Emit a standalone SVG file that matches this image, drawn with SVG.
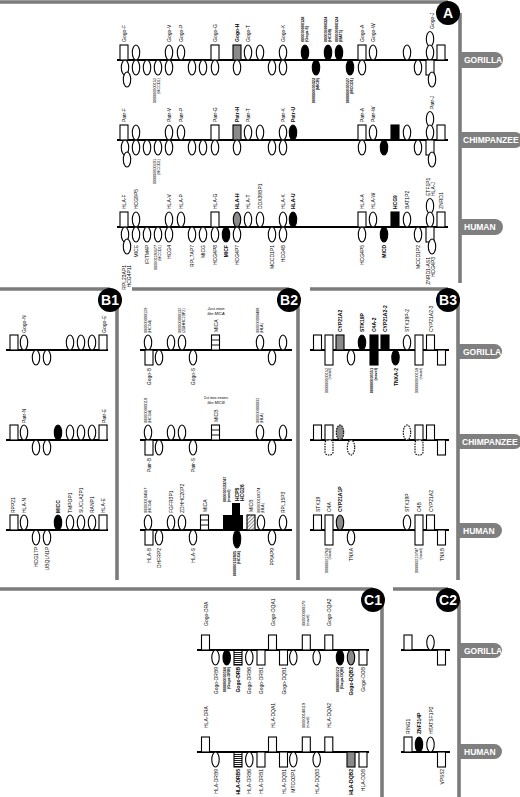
<svg xmlns="http://www.w3.org/2000/svg" width="520" height="797" viewBox="0 0 520 797">
<style>
.bar{stroke:#7c7c7c;stroke-width:3.6;fill:none}
.pill{fill:#7f7f7f}
.pt{font:bold 8.5px "Liberation Sans",Arial,sans-serif;fill:#fff;dominant-baseline:central}
.tt{font:bold 14px "Liberation Sans",Arial,sans-serif;fill:#fff;text-anchor:middle;dominant-baseline:central}
.ln{stroke:#000;stroke-width:2}
.r ellipse{fill:#fff;stroke:#000;stroke-width:1.1;rx:3.7px;ry:7.5px}
.r rect{fill:#fff;stroke:#000;stroke-width:1.1;width:8px;height:15px}
.r .k{fill:#000}
.r .m{fill:#8a8a8a}
.r .tall{height:30px}
.r .d{stroke-dasharray:1.6 1}
.r .hs{fill:url(#hs)}
.r .hx{fill:url(#hx)}
.r line{stroke:#000;stroke-width:.9}
.t{font:5px "Liberation Sans",Arial,sans-serif;dominant-baseline:central}
.n{font-size:3.8px}
.b{font-weight:bold}
.u{text-anchor:end}
.an{font:italic 4px "Liberation Sans",Arial,sans-serif;text-anchor:middle}
</style>
<defs>
<pattern id="hs" width="3" height="2" patternUnits="userSpaceOnUse"><rect width="3" height="2" fill="#fff"/><rect width="3" height="0.9" fill="#000"/></pattern>
<pattern id="hx" width="2.5" height="2.5" patternUnits="userSpaceOnUse" patternTransform="rotate(45)"><rect width="2.5" height="2.5" fill="#fff"/><rect width="1" height="2.5" fill="#888"/></pattern>
</defs>

<g id="frames">
<path class="bar" d="M0,2H448M460,13V283"/>
<path class="bar" d="M0,289H110M117,300V580"/>
<path class="bar" d="M132,289H289M298,300V580"/>
<path class="bar" d="M310,289H448M458,300V580"/>
<path class="bar" d="M0,589H373M382,600V797"/>
<path class="bar" d="M393,589H448M459,600V797"/>
</g>

<g id="tags">
<g id="tag-A"><circle cx="448" cy="13" r="12"/><text class="tt" x="448" y="13">A</text></g>
<g id="tag-B1"><circle cx="110" cy="300" r="12"/><text class="tt" x="110" y="300">B1</text></g>
<g id="tag-B2"><circle cx="289" cy="300" r="12"/><text class="tt" x="289" y="300">B2</text></g>
<g id="tag-B3"><circle cx="448" cy="300" r="12"/><text class="tt" x="448" y="300">B3</text></g>
<g id="tag-C1"><circle cx="373" cy="600" r="12"/><text class="tt" x="373" y="600">C1</text></g>
<g id="tag-C2"><circle cx="448" cy="600" r="12"/><text class="tt" x="448" y="600">C2</text></g>
</g>

<g id="species">
<g id="A-gor-pill"><path class="pill" d="M460,52H495A8,8 0 0 1 495,68H460Z"/><text class="pt" x="464" y="60">GORILLA</text></g>
<g id="A-chi-pill"><path class="pill" d="M460,132H515A8,8 0 0 1 515,148H460Z"/><text class="pt" x="463" y="140">CHIMPANZEE</text></g>
<g id="A-hum-pill"><path class="pill" d="M460,219H495A8,8 0 0 1 495,235H460Z"/><text class="pt" x="464" y="227">HUMAN</text></g>
<g id="B3-gor-pill"><path class="pill" d="M458,344H494.5A7.5,7.5 0 0 1 494.5,359H458Z"/><text class="pt" x="463" y="351.5">GORILLA</text></g>
<g id="B3-chi-pill"><path class="pill" d="M458,434H514.5A7.5,7.5 0 0 1 514.5,449H458Z"/><text class="pt" x="462" y="441.5">CHIMPANZEE</text></g>
<g id="B3-hum-pill"><path class="pill" d="M458,523H494.5A7.5,7.5 0 0 1 494.5,538H458Z"/><text class="pt" x="463" y="530.5">HUMAN</text></g>
<g id="C2-gor-pill"><path class="pill" d="M459,643H494.5A7.5,7.5 0 0 1 494.5,658H459Z"/><text class="pt" x="464" y="650.5">GORILLA</text></g>
<g id="C2-hum-pill"><path class="pill" d="M459,744H494.5A7.5,7.5 0 0 1 494.5,759H459Z"/><text class="pt" x="464" y="751.5">HUMAN</text></g>
</g>

<g id="connectors">
<path class="ln" d="M117,60H448M117,140H448M117,227H448"/>
<path class="ln" d="M6,350H108M6,440H108M6,530H108"/>
<path class="ln" d="M140,350H292M140,440H292M140,530H292"/>
<path class="ln" d="M310,350H449M310,440H449M310,530H449"/>
<path class="ln" d="M197,650H369M197,752H369"/>
<path class="ln" d="M401,650H450M401,752H450"/>
</g>

<!-- PANEL A GORILLA -->
<g id="A-gorilla" class="r" transform="translate(0,60)">
<g id="A-go-F"><rect x="120" y="-15"/><text class="t" transform="translate(124,-18) rotate(-90)">Gogo-F</text></g>
<g id="A-go-u1"><ellipse cx="136" cy="-7.5"/></g>
<g id="A-go-V"><ellipse cx="169" cy="-7.5"/><text class="t" transform="translate(169,-18) rotate(-90)">Gogo-V</text></g>
<g id="A-go-P"><ellipse cx="181" cy="-7.5"/><text class="t" transform="translate(181,-18) rotate(-90)">Gogo-P</text></g>
<g id="A-go-G"><rect x="211" y="-15"/><text class="t" transform="translate(215,-18) rotate(-90)">Gogo-G</text></g>
<g id="A-go-H"><rect class="m" x="233" y="-15"/><text class="t b" transform="translate(237,-18) rotate(-90)">Gogo-H</text></g>
<g id="A-go-T"><ellipse cx="248" cy="-7.5"/><text class="t" transform="translate(248,-18) rotate(-90)">Gogo-T</text></g>
<g id="A-go-u2"><ellipse cx="260" cy="-7.5"/></g>
<g id="A-go-K"><ellipse cx="283" cy="-7.5"/><text class="t" transform="translate(283,-18) rotate(-90)">Gogo-K</text></g>
<g id="A-go-128"><ellipse class="k" cx="305" cy="-7.5"/><text class="t n b" transform="translate(305,-18) rotate(-90)"><tspan x="0" dy="-1.9">000000000128</tspan><tspan x="0" dy="3.8">(Gogo-E)</tspan></text></g>
<g id="A-go-324"><ellipse class="k" cx="328" cy="-7.5"/><text class="t n b" transform="translate(328,-18) rotate(-90)"><tspan x="0" dy="-1.9">000000000324</tspan><tspan x="0" dy="3.8">(HCG9)</tspan></text></g>
<g id="A-go-124"><ellipse class="k" cx="339" cy="-7.5"/><text class="t n b" transform="translate(339,-18) rotate(-90)"><tspan x="0" dy="-1.9">000000000124</tspan><tspan x="0" dy="3.8">(BAT1)</tspan></text></g>
<g id="A-go-A"><rect x="358" y="-15"/><text class="t" transform="translate(362,-18) rotate(-90)">Gogo-A</text></g>
<g id="A-go-W"><ellipse cx="373" cy="-7.5"/><text class="t" transform="translate(373,-18) rotate(-90)">Gogo-W</text></g>
<g id="A-go-u3"><ellipse cx="407" cy="-7.5"/></g>
<g id="A-go-J"><ellipse cx="430" cy="-21"/><ellipse cx="430" cy="-7.5"/><text class="t" transform="translate(432,-31) rotate(-90)">Gogo-J</text></g>
<g id="A-go-u4"><rect x="437" y="-15"/></g>
<g id="A-go-b1"><ellipse cx="125" cy="7.5"/><ellipse cx="127" cy="19.5"/></g>
<g id="A-go-b2"><ellipse cx="136" cy="7.5"/></g>
<g id="A-go-b3"><ellipse cx="147" cy="7.5"/></g>
<g id="A-go-152"><ellipse cx="158" cy="7.5"/><text class="t n u" transform="translate(157,18) rotate(-90)"><tspan x="0" dy="-1.9">000000000152</tspan><tspan x="0" dy="3.8">(MCCD1)</tspan></text></g>
<g id="A-go-b5"><ellipse cx="169" cy="7.5"/></g>
<g id="A-go-b6"><ellipse cx="192" cy="7.5"/></g>
<g id="A-go-b7"><ellipse cx="203" cy="7.5"/></g>
<g id="A-go-b8"><ellipse cx="215" cy="7.5"/></g>
<g id="A-go-b9"><ellipse cx="237" cy="7.5"/></g>
<g id="A-go-b10"><ellipse cx="272" cy="7.5"/></g>
<g id="A-go-b11"><ellipse cx="283" cy="7.5"/></g>
<g id="A-go-322"><ellipse class="k" cx="316" cy="7.5"/><text class="t n u b" transform="translate(316,18) rotate(-90)"><tspan x="0" dy="-1.9">000000000322</tspan><tspan x="0" dy="3.8">(MICB)</tspan></text></g>
<g id="A-go-127"><ellipse class="k" cx="350" cy="7.5"/><text class="t n u b" transform="translate(350,18) rotate(-90)"><tspan x="0" dy="-1.9">000000000127</tspan><tspan x="0" dy="3.8">(MCCD1)</tspan></text></g>
<g id="A-go-b12"><ellipse cx="362" cy="7.5"/></g>
<g id="A-go-b13"><ellipse cx="418" cy="7.5"/></g>
<g id="A-go-b14"><rect x="426" y="0"/><ellipse cx="432" cy="19.5"/></g>
</g>

<!-- PANEL A CHIMP -->
<g id="A-chimp" class="r" transform="translate(0,140)">
<g id="A-pt-F"><rect x="120" y="-15"/><text class="t" transform="translate(124,-18) rotate(-90)">Patr-F</text></g>
<g id="A-pt-u1"><ellipse cx="136" cy="-7.5"/></g>
<g id="A-pt-V"><ellipse cx="169" cy="-7.5"/><text class="t" transform="translate(169,-18) rotate(-90)">Patr-V</text></g>
<g id="A-pt-P"><ellipse cx="181" cy="-7.5"/><text class="t" transform="translate(181,-18) rotate(-90)">Patr-P</text></g>
<g id="A-pt-G"><rect x="211" y="-15"/><text class="t" transform="translate(215,-18) rotate(-90)">Patr-G</text></g>
<g id="A-pt-H"><rect class="m" x="233" y="-15"/><text class="t b" transform="translate(237,-18) rotate(-90)">Patr-H</text></g>
<g id="A-pt-T"><ellipse cx="248" cy="-7.5"/><text class="t" transform="translate(248,-18) rotate(-90)">Patr-T</text></g>
<g id="A-pt-u2"><ellipse cx="260" cy="-7.5"/></g>
<g id="A-pt-K"><ellipse cx="283" cy="-7.5"/><text class="t" transform="translate(283,-18) rotate(-90)">Patr-K</text></g>
<g id="A-pt-U"><ellipse class="k" cx="293" cy="-7.5"/><text class="t b" transform="translate(293,-18) rotate(-90)">Patr-U</text></g>
<g id="A-pt-A"><rect x="358" y="-15"/><text class="t" transform="translate(362,-18) rotate(-90)">Patr-A</text></g>
<g id="A-pt-W"><ellipse cx="373" cy="-7.5"/><text class="t" transform="translate(373,-18) rotate(-90)">Patr-W</text></g>
<g id="A-pt-u3"><rect class="k" x="391" y="-15"/></g>
<g id="A-pt-u4"><ellipse cx="407" cy="-7.5"/></g>
<g id="A-pt-J"><ellipse cx="430" cy="-21"/><ellipse cx="430" cy="-7.5"/><text class="t" transform="translate(432,-31) rotate(-90)">Patr-J</text></g>
<g id="A-pt-u5"><rect x="437" y="-15"/></g>
<g id="A-pt-b1"><ellipse cx="125" cy="7.5"/><ellipse cx="127" cy="19.5"/></g>
<g id="A-pt-b2"><ellipse cx="136" cy="7.5"/></g>
<g id="A-pt-b3"><ellipse cx="147" cy="7.5"/></g>
<g id="A-pt-201"><ellipse cx="158" cy="7.5"/><text class="t n u" transform="translate(157,19) rotate(-90)"><tspan x="0" dy="-1.9">000000000201</tspan><tspan x="0" dy="3.8">(MCCD1)</tspan></text></g>
<g id="A-pt-b5"><ellipse cx="169" cy="7.5"/></g>
<g id="A-pt-b6"><ellipse cx="192" cy="7.5"/></g>
<g id="A-pt-b7"><ellipse cx="203" cy="7.5"/></g>
<g id="A-pt-b8"><ellipse cx="215" cy="7.5"/></g>
<g id="A-pt-b9"><ellipse cx="237" cy="7.5"/></g>
<g id="A-pt-b10"><ellipse cx="272" cy="7.5"/></g>
<g id="A-pt-b11"><ellipse cx="283" cy="7.5"/></g>
<g id="A-pt-b12"><ellipse cx="362" cy="7.5"/></g>
<g id="A-pt-b13"><ellipse class="k" cx="384" cy="7.5"/></g>
<g id="A-pt-b14"><ellipse cx="418" cy="7.5"/></g>
<g id="A-pt-b15"><rect x="426" y="0"/><ellipse cx="432" cy="19.5"/></g>
</g>

<!-- PANEL A HUMAN -->
<g id="A-human" class="r" transform="translate(0,227)">
<g id="A-hs-HLA-F"><rect x="120" y="-15"/><text class="t" transform="translate(124,-18) rotate(-90)">HLA-F</text></g>
<g id="A-hs-HCG9P5"><ellipse cx="136" cy="-7.5"/><text class="t" transform="translate(136,-18) rotate(-90)">HCG9P5</text></g>
<g id="A-hs-HLA-V"><ellipse cx="169" cy="-7.5"/><text class="t" transform="translate(169,-18) rotate(-90)">HLA-V</text></g>
<g id="A-hs-HLA-P"><ellipse cx="181" cy="-7.5"/><text class="t" transform="translate(181,-18) rotate(-90)">HLA-P</text></g>
<g id="A-hs-HLA-G"><rect x="211" y="-15"/><text class="t" transform="translate(215,-18) rotate(-90)">HLA-G</text></g>
<g id="A-hs-HLA-H"><ellipse class="m" cx="237" cy="-7.5"/><text class="t b" transform="translate(237,-18) rotate(-90)">HLA-H</text></g>
<g id="A-hs-HLA-T"><ellipse cx="248" cy="-7.5"/><text class="t" transform="translate(248,-18) rotate(-90)">HLA-T</text></g>
<g id="A-hs-DDX39BP1"><ellipse cx="260" cy="-7.5"/><text class="t" transform="translate(260,-18) rotate(-90)">DDX39BP1</text></g>
<g id="A-hs-HLA-K"><ellipse cx="283" cy="-7.5"/><text class="t" transform="translate(283,-18) rotate(-90)">HLA-K</text></g>
<g id="A-hs-HLA-U"><ellipse class="k" cx="293" cy="-7.5"/><text class="t b" transform="translate(293,-18) rotate(-90)">HLA-U</text></g>
<g id="A-hs-HLA-A"><rect x="358" y="-15"/><text class="t" transform="translate(362,-18) rotate(-90)">HLA-A</text></g>
<g id="A-hs-HLA-W"><ellipse cx="373" cy="-7.5"/><text class="t" transform="translate(373,-18) rotate(-90)">HLA-W</text></g>
<g id="A-hs-HCG9"><rect class="k" x="391" y="-15"/><text class="t b" transform="translate(395,-18) rotate(-90)">HCG9</text></g>
<g id="A-hs-BAT1P2"><ellipse cx="407" cy="-7.5"/><text class="t" transform="translate(407,-18) rotate(-90)">BAT1P2</text></g>
<g id="A-hs-HLA-J"><ellipse cx="430" cy="-21"/><ellipse cx="430" cy="-7.5"/><text class="t" transform="translate(430,-31) rotate(-90)"><tspan x="0" dy="-2.5">ETF1P1</tspan><tspan x="0" dy="5">HLA-J</tspan></text></g>
<g id="A-hs-ZNRD1"><rect x="437" y="-15"/><text class="t" transform="translate(441,-18) rotate(-90)">ZNRD1</text></g>
<g id="A-hs-RPL23AP1"><ellipse cx="125" cy="7.5"/><ellipse cx="127" cy="19.5"/><text class="t u" transform="translate(126,38) rotate(-90)"><tspan x="0" dy="-2.5">RPL23AP1</tspan><tspan x="0" dy="5">HCG4P11</tspan></text></g>
<g id="A-hs-MICE"><ellipse cx="136" cy="7.5"/><text class="t u" transform="translate(136,18) rotate(-90)">MICE</text></g>
<g id="A-hs-IFITM4P"><ellipse cx="147" cy="7.5"/><text class="t u" transform="translate(147,18) rotate(-90)">IFITM4P</text></g>
<g id="A-hs-577"><ellipse cx="158" cy="7.5"/><text class="t n u" transform="translate(158,18) rotate(-90)"><tspan x="0" dy="-1.9">000001180577</tspan><tspan x="0" dy="3.8">(MCCD1)</tspan></text></g>
<g id="A-hs-HCG4"><ellipse cx="169" cy="7.5"/><text class="t u" transform="translate(169,18) rotate(-90)">HCG4</text></g>
<g id="A-hs-RPL7AP7"><ellipse cx="192" cy="7.5"/><text class="t u" transform="translate(192,18) rotate(-90)">RPL7AP7</text></g>
<g id="A-hs-MICG"><ellipse cx="203" cy="7.5"/><text class="t u" transform="translate(203,18) rotate(-90)">MICG</text></g>
<g id="A-hs-HCG4P8"><ellipse cx="215" cy="7.5"/><text class="t u" transform="translate(215,18) rotate(-90)">HCG4P8</text></g>
<g id="A-hs-MICF"><ellipse class="k" cx="226" cy="7.5"/><text class="t u b" transform="translate(226,18) rotate(-90)">MICF</text></g>
<g id="A-hs-HCG4P7"><ellipse cx="237" cy="7.5"/><text class="t u" transform="translate(237,18) rotate(-90)">HCG4P7</text></g>
<g id="A-hs-MCCD1P1"><ellipse cx="272" cy="7.5"/><text class="t u" transform="translate(272,18) rotate(-90)">MCCD1P1</text></g>
<g id="A-hs-HCG4B"><ellipse cx="283" cy="7.5"/><text class="t u" transform="translate(283,18) rotate(-90)">HCG4B</text></g>
<g id="A-hs-HCG4P5"><ellipse cx="362" cy="7.5"/><text class="t u" transform="translate(362,18) rotate(-90)">HCG4P5</text></g>
<g id="A-hs-MICD"><ellipse class="k" cx="384" cy="7.5"/><text class="t u b" transform="translate(384,18) rotate(-90)">MICD</text></g>
<g id="A-hs-MCCD1P2"><ellipse cx="418" cy="7.5"/><text class="t u" transform="translate(418,18) rotate(-90)">MCCD1P2</text></g>
<g id="A-hs-ZNRD1-AS1"><rect x="426" y="0"/><ellipse cx="432" cy="19.5"/><text class="t u" transform="translate(430,30) rotate(-90)"><tspan x="0" dy="-2.5">ZNRD1-AS1</tspan><tspan x="0" dy="5">HCG4P3</tspan></text></g>
</g>

<!-- PANEL B1 -->
<g id="B1-gorilla" class="r" transform="translate(0,350)">
<g id="B1-go-u1"><rect x="10" y="-15"/></g>
<g id="B1-go-N"><ellipse cx="24" cy="-7.5"/><text class="t" transform="translate(24,-17) rotate(-90)">Gogo-N</text></g>
<g id="B1-go-u2"><ellipse cx="36" cy="7.5"/></g>
<g id="B1-go-u3"><ellipse cx="47" cy="7.5"/></g>
<g id="B1-go-u4"><ellipse cx="70" cy="-7.5"/></g>
<g id="B1-go-u5"><ellipse cx="81" cy="-7.5"/></g>
<g id="B1-go-u6"><ellipse cx="92" cy="-7.5"/></g>
<g id="B1-go-E"><rect x="99" y="-15"/><text class="t" transform="translate(104,-17) rotate(-90)">Gogo-E</text></g>
</g>
<g id="B1-chimp" class="r" transform="translate(0,440)">
<g id="B1-pt-u1"><rect x="10" y="-15"/></g>
<g id="B1-pt-N"><ellipse cx="24" cy="-7.5"/><text class="t" transform="translate(24,-17) rotate(-90)">Patr-N</text></g>
<g id="B1-pt-u2"><ellipse cx="36" cy="7.5"/></g>
<g id="B1-pt-u3"><ellipse cx="47" cy="7.5"/></g>
<g id="B1-pt-u7"><ellipse class="k" cx="58" cy="-7.5"/></g>
<g id="B1-pt-u4"><ellipse cx="70" cy="-7.5"/></g>
<g id="B1-pt-u5"><ellipse cx="81" cy="-7.5"/></g>
<g id="B1-pt-u6"><ellipse cx="92" cy="-7.5"/></g>
<g id="B1-pt-E"><rect x="99" y="-15"/><text class="t" transform="translate(104,-17) rotate(-90)">Patr-E</text></g>
</g>
<g id="B1-human" class="r" transform="translate(0,530)">
<g id="B1-hs-RPP21"><rect x="10" y="-15"/><text class="t" transform="translate(13,-17) rotate(-90)">RPP21</text></g>
<g id="B1-hs-HLA-N"><ellipse cx="24" cy="-7.5"/><text class="t" transform="translate(24,-17) rotate(-90)">HLA-N</text></g>
<g id="B1-hs-HCG17P"><ellipse cx="36" cy="7.5"/><text class="t u" transform="translate(36,17) rotate(-90)">HCG17P</text></g>
<g id="B1-hs-UBQLN1P"><ellipse cx="47" cy="7.5"/><text class="t u" transform="translate(47,17) rotate(-90)">UBQLN1P</text></g>
<g id="B1-hs-MICC"><ellipse class="k" cx="58" cy="-7.5"/><text class="t b" transform="translate(58,-17) rotate(-90)">MICC</text></g>
<g id="B1-hs-TMPOP1"><ellipse cx="70" cy="-7.5"/><text class="t" transform="translate(70,-17) rotate(-90)">TMPOP1</text></g>
<g id="B1-hs-SUCLA2P1"><ellipse cx="81" cy="-7.5"/><text class="t" transform="translate(81,-17) rotate(-90)">SUCLA2P1</text></g>
<g id="B1-hs-RANP1"><ellipse cx="92" cy="-7.5"/><text class="t" transform="translate(92,-17) rotate(-90)">RANP1</text></g>
<g id="B1-hs-HLA-E"><rect x="99" y="-15"/><text class="t" transform="translate(103,-17) rotate(-90)">HLA-E</text></g>
</g>

<!-- PANEL B2 -->
<g id="B2-gorilla" class="r" transform="translate(0,350)">
<g id="B2-go-129"><ellipse cx="148" cy="-7.5"/><text class="t n" transform="translate(148,-17) rotate(-90)"><tspan x="0" dy="-1.9">000000000129</tspan><tspan x="0" dy="3.8">(HCG4)</tspan></text></g>
<g id="B2-go-B"><rect x="145" y="0"/><text class="t u" transform="translate(149,18) rotate(-90)">Gogo-B</text></g>
<g id="B2-go-u1"><ellipse cx="159" cy="7.5"/></g>
<g id="B2-go-u2"><ellipse cx="171" cy="-7.5"/></g>
<g id="B2-go-132"><ellipse cx="182" cy="-7.5"/><text class="t n" transform="translate(182,-17) rotate(-90)"><tspan x="0" dy="-1.9">000000000132</tspan><tspan x="0" dy="3.8">(ZDHHC20P2)</tspan></text></g>
<g id="B2-go-S"><ellipse cx="193" cy="7.5"/><text class="t u" transform="translate(193,18) rotate(-90)">Gogo-S</text></g>
<g id="B2-go-MICA"><rect x="211.5" y="-15"/><line x1="211.5" y1="-10" x2="219.5" y2="-10"/><line x1="211.5" y1="-5" x2="219.5" y2="-5"/><text class="t" transform="translate(215.5,-18) rotate(-90)">MICA</text><text class="an" x="216" y="-40">Just exon</text><text class="an" x="216" y="-35.5">like MICA</text></g>
<g id="B2-go-408"><ellipse cx="260" cy="-7.5"/><text class="t n" transform="translate(260,-17) rotate(-90)"><tspan x="0" dy="-1.9">000000000408</tspan><tspan x="0" dy="3.8">(HLA)</tspan></text></g>
<g id="B2-go-u3"><ellipse cx="272" cy="7.5"/></g>
<g id="B2-go-u4"><ellipse cx="283" cy="-7.5"/></g>
</g>
<g id="B2-chimp" class="r" transform="translate(0,440)">
<g id="B2-pt-118"><ellipse cx="148" cy="-7.5"/><text class="t n" transform="translate(148,-17) rotate(-90)"><tspan x="0" dy="-1.9">000000000118</tspan><tspan x="0" dy="3.8">(HCG4)</tspan></text></g>
<g id="B2-pt-B"><rect x="145" y="0"/><text class="t u" transform="translate(149,18) rotate(-90)">Patr-B</text></g>
<g id="B2-pt-u1"><ellipse cx="159" cy="7.5"/></g>
<g id="B2-pt-u2"><ellipse cx="171" cy="-7.5"/></g>
<g id="B2-pt-u5"><ellipse cx="182" cy="-7.5"/></g>
<g id="B2-pt-S"><ellipse cx="193" cy="7.5"/><text class="t u" transform="translate(193,18) rotate(-90)">Patr-S</text></g>
<g id="B2-pt-MICB"><rect x="211.5" y="-15"/><line x1="211.5" y1="-10" x2="219.5" y2="-10"/><line x1="211.5" y1="-5" x2="219.5" y2="-5"/><text class="t" transform="translate(215.5,-18) rotate(-90)">MICB</text><text class="an" x="216" y="-41">1st two exons</text><text class="an" x="216" y="-36.5">like MICB</text></g>
<g id="B2-pt-032"><ellipse cx="260" cy="-7.5"/><text class="t n" transform="translate(260,-17) rotate(-90)"><tspan x="0" dy="-1.9">000000000032</tspan><tspan x="0" dy="3.8">(HLA)</tspan></text></g>
<g id="B2-pt-u3"><ellipse cx="272" cy="7.5"/></g>
<g id="B2-pt-u4"><ellipse cx="283" cy="-7.5"/></g>
</g>
<g id="B2-human" class="r" transform="translate(0,530)">
<g id="B2-hs-567"><ellipse cx="148" cy="-7.5"/><text class="t n" transform="translate(148,-17) rotate(-90)"><tspan x="0" dy="-1.9">000000184567</tspan><tspan x="0" dy="3.8">(HCG4)</tspan></text></g>
<g id="B2-hs-HLA-B"><rect x="145" y="0"/><text class="t u" transform="translate(149,18) rotate(-90)">HLA-B</text></g>
<g id="B2-hs-DHFRP2"><ellipse cx="159" cy="7.5"/><text class="t u" transform="translate(159,18) rotate(-90)">DHFRP2</text></g>
<g id="B2-hs-FGFR3P1"><ellipse cx="171" cy="-7.5"/><text class="t" transform="translate(171,-17) rotate(-90)">FGFR3P1</text></g>
<g id="B2-hs-ZDHHC20P2"><ellipse cx="182" cy="-7.5"/><text class="t" transform="translate(182,-17) rotate(-90)">ZDHHC20P2</text></g>
<g id="B2-hs-HLA-S"><ellipse cx="193" cy="7.5"/><text class="t u" transform="translate(193,18) rotate(-90)">HLA-S</text></g>
<g id="B2-hs-MICA"><rect x="200.5" y="-15"/><line x1="200.5" y1="-10" x2="208.5" y2="-10"/><line x1="200.5" y1="-5" x2="208.5" y2="-5"/><text class="t" transform="translate(204.5,-18) rotate(-90)">MICA</text></g>
<g id="B2-hs-HCP5"><polygon class="k" points="223,-15 232,-15 232,-27 240,-27 240,-15 243,-15 243,0 223,0"/><text class="t n b" transform="translate(227,-28) rotate(-90)"><tspan x="0" dy="-1.9">000000133747</tspan><tspan x="0" dy="3.8">(novel)</tspan></text><text class="t b" transform="translate(239,-29) rotate(-90)"><tspan x="0" dy="-2.5">HCP5</tspan><tspan x="0" dy="5">HCG26</tspan></text></g>
<g id="B2-hs-935"><ellipse class="k" cx="237" cy="9" style="ry:9px"/><text class="t n u b" transform="translate(237,21) rotate(-90)"><tspan x="0" dy="-1.9">000000132935</tspan><tspan x="0" dy="3.8">(HCG4)</tspan></text></g>
<g id="B2-hs-MICB"><rect class="hx" x="247" y="-15"/><text class="t" transform="translate(251,-18) rotate(-90)">MICB</text></g>
<g id="B2-hs-174"><ellipse cx="261" cy="-7.5"/><text class="t n" transform="translate(261,-17) rotate(-90)"><tspan x="0" dy="-1.9">000000169174</tspan><tspan x="0" dy="3.8">(HLA)</tspan></text></g>
<g id="B2-hs-PPIAP9"><ellipse cx="272" cy="7.5"/><text class="t u" transform="translate(272,18) rotate(-90)">PPIAP9</text></g>
<g id="B2-hs-RPL15P3"><ellipse cx="283" cy="-7.5"/><text class="t" transform="translate(283,-17) rotate(-90)">RPL15P3</text></g>
</g>

<!-- PANEL B3 -->
<g id="B3-gorilla" class="r" transform="translate(0,350)">
<g id="B3-go-u1"><rect x="313.5" y="-15"/></g>
<g id="B3-go-152"><rect class="tall" x="325" y="-15"/><text class="t n u" transform="translate(328.5,18) rotate(-90)"><tspan x="0" dy="-1.9">000000000152</tspan><tspan x="0" dy="3.8">(novel)</tspan></text></g>
<g id="B3-go-CYP21A2"><rect class="m" x="336" y="-15"/><text class="t b" transform="translate(340,-18) rotate(-90)">CYP21A2</text></g>
<g id="B3-go-u2"><ellipse cx="351" cy="7.5"/></g>
<g id="B3-go-STK19P"><ellipse class="k" cx="362" cy="-7.5"/><text class="t b" transform="translate(362,-18) rotate(-90)">STK19P</text></g>
<g id="B3-go-C4A-2"><rect class="k tall" x="370" y="-15"/><text class="t b" transform="translate(374,-18) rotate(-90)">C4A-2</text><text class="t n u b" transform="translate(374,18) rotate(-90)"><tspan x="0" dy="-1.9">000000000151</tspan><tspan x="0" dy="3.8">(novel)</tspan></text></g>
<g id="B3-go-CYP21A2-2"><rect class="k" x="381" y="-15"/><text class="t b" transform="translate(385,-18) rotate(-90)">CYP21A2-2</text></g>
<g id="B3-go-TNXA-2"><ellipse class="k" cx="395.5" cy="7.5"/><text class="t u b" transform="translate(395.5,18) rotate(-90)">TNXA-2</text></g>
<g id="B3-go-STK19P-2"><ellipse cx="407" cy="-7.5"/><text class="t" transform="translate(407,-18) rotate(-90)">STK19P-2</text></g>
<g id="B3-go-159"><rect class="tall" x="415" y="-15"/><text class="t n u" transform="translate(419,18) rotate(-90)"><tspan x="0" dy="-1.9">000000000159</tspan><tspan x="0" dy="3.8">(novel)</tspan></text></g>
<g id="B3-go-CYP21A2-3"><rect x="426.5" y="-15"/><text class="t" transform="translate(430.5,-18) rotate(-90)">CYP21A2-3</text></g>
<g id="B3-go-u3"><rect x="437.5" y="0"/></g>
</g>
<g id="B3-chimp" class="r" transform="translate(0,440)">
<g id="B3-pt-u1"><rect x="313.5" y="-15"/></g>
<g id="B3-pt-u2"><rect x="325" y="-15"/><rect class="d" x="325" y="0" rx="3"/></g>
<g id="B3-pt-u3"><ellipse class="m d" cx="340" cy="-7.5"/></g>
<g id="B3-pt-u4"><ellipse class="d" cx="351" cy="7.5"/></g>
<g id="B3-pt-u5"><ellipse class="d" cx="407" cy="-7.5"/></g>
<g id="B3-pt-u6"><rect x="415" y="-15"/><rect class="d" x="415" y="0" rx="3"/></g>
<g id="B3-pt-u7"><rect x="426.5" y="-15"/></g>
<g id="B3-pt-u8"><rect x="437.5" y="0"/></g>
</g>
<g id="B3-human" class="r" transform="translate(0,530)">
<g id="B3-hs-STK19"><rect x="313.5" y="-15"/><text class="t" transform="translate(317.5,-18) rotate(-90)">STK19</text></g>
<g id="B3-hs-C4A"><rect class="tall" x="325" y="-15"/><text class="t" transform="translate(329,-18) rotate(-90)">C4A</text><text class="t n u" transform="translate(328.5,18) rotate(-90)"><tspan x="0" dy="-1.9">000000213760</tspan><tspan x="0" dy="3.8">(novel)</tspan></text></g>
<g id="B3-hs-CYP21A1P"><ellipse class="m" cx="340" cy="-7.5"/><text class="t b" transform="translate(340,-18) rotate(-90)">CYP21A1P</text></g>
<g id="B3-hs-TNXA"><ellipse cx="351" cy="7.5"/><text class="t u" transform="translate(351,18) rotate(-90)">TNXA</text></g>
<g id="B3-hs-STK19P"><ellipse cx="407" cy="-7.5"/><text class="t" transform="translate(407,-18) rotate(-90)">STK19P</text></g>
<g id="B3-hs-C4B"><rect class="tall" x="415" y="-15"/><text class="t" transform="translate(419,-18) rotate(-90)">C4B</text><text class="t n u" transform="translate(419,18) rotate(-90)"><tspan x="0" dy="-1.9">000000213747</tspan><tspan x="0" dy="3.8">(novel)</tspan></text></g>
<g id="B3-hs-CYP21A2"><rect x="426.5" y="-15"/><text class="t" transform="translate(430.5,-18) rotate(-90)">CYP21A2</text></g>
<g id="B3-hs-TNXB"><rect x="437.5" y="0"/><text class="t u" transform="translate(441.5,18) rotate(-90)">TNXB</text></g>
</g>

<!-- PANEL C1 -->
<g id="C1-gorilla" class="r" transform="translate(0,650)">
<g id="C1-go-DRA"><rect x="201.5" y="-15"/><text class="t" transform="translate(205.5,-24) rotate(-90)">Gogo-DRA</text></g>
<g id="C1-go-DRB9"><ellipse cx="215.5" cy="7.5"/><text class="t u" transform="translate(215.5,17) rotate(-90)">Gogo-DRB9</text></g>
<g id="C1-go-166"><ellipse class="k" cx="226.7" cy="7.5"/><text class="t n u b" transform="translate(226.7,17) rotate(-90)"><tspan x="0" dy="-1.9">000000000166</tspan><tspan x="0" dy="3.8">(Gogo-DRB)</tspan></text></g>
<g id="C1-go-DRB"><rect class="hs" x="234" y="0"/><text class="t u b" transform="translate(238,17) rotate(-90)">Gogo-DRB</text></g>
<g id="C1-go-DRB6"><ellipse cx="249.3" cy="7.5"/><text class="t u" transform="translate(249.3,17) rotate(-90)">Gogo-DRB6</text></g>
<g id="C1-go-DRB1"><rect x="257" y="0"/><text class="t u" transform="translate(261,17) rotate(-90)">Gogo-DRB1</text></g>
<g id="C1-go-DQA1"><rect x="268.5" y="-15"/><text class="t" transform="translate(272.5,-24) rotate(-90)">Gogo-DQA1</text></g>
<g id="C1-go-DQB1"><rect x="279.5" y="0"/><text class="t u" transform="translate(283.5,17) rotate(-90)">Gogo-DQB1</text></g>
<g id="C1-go-u1"><ellipse cx="293.3" cy="7.5"/></g>
<g id="C1-go-170"><rect x="302.3" y="-15"/><text class="t n" transform="translate(306.3,-24) rotate(-90)"><tspan x="0" dy="-1.9">000000000170</tspan><tspan x="0" dy="3.8">(novel)</tspan></text></g>
<g id="C1-go-u2"><ellipse cx="316.7" cy="7.5"/></g>
<g id="C1-go-DQA2"><rect x="324.8" y="-15"/><text class="t" transform="translate(328.8,-24) rotate(-90)">Gogo-DQA2</text></g>
<g id="C1-go-172"><ellipse class="k" cx="340" cy="7.5"/><text class="t n u b" transform="translate(340,17) rotate(-90)"><tspan x="0" dy="-1.9">000000000172</tspan><tspan x="0" dy="3.8">(Gogo-DQB)</tspan></text></g>
<g id="C1-go-DQB2"><ellipse class="m" cx="351" cy="7.5"/><text class="t u b" transform="translate(351,17) rotate(-90)">Gogo-DQB2</text></g>
<g id="C1-go-DOB"><rect x="359" y="0"/><text class="t u" transform="translate(363,17) rotate(-90)">Gogo-DOB</text></g>
</g>
<g id="C1-human" class="r" transform="translate(0,752)">
<g id="C1-hs-DRA"><rect x="201.5" y="-15"/><text class="t" transform="translate(205.5,-24) rotate(-90)">HLA-DRA</text></g>
<g id="C1-hs-DRB9"><ellipse cx="215.5" cy="7.5"/><text class="t u" transform="translate(215.5,17) rotate(-90)">HLA-DRB9</text></g>
<g id="C1-hs-DRB5"><rect class="hs" x="234" y="0"/><text class="t u b" transform="translate(238,17) rotate(-90)">HLA-DRB5</text></g>
<g id="C1-hs-DRB6"><ellipse cx="249.3" cy="7.5"/><text class="t u" transform="translate(249.3,17) rotate(-90)">HLA-DRB6</text></g>
<g id="C1-hs-DRB1"><rect x="257" y="0"/><text class="t u" transform="translate(261,17) rotate(-90)">HLA-DRB1</text></g>
<g id="C1-hs-DQA1"><rect x="268.5" y="-15"/><text class="t" transform="translate(272.5,-24) rotate(-90)">HLA-DQA1</text></g>
<g id="C1-hs-DQB1"><rect x="279.5" y="0"/><text class="t u" transform="translate(283.5,17) rotate(-90)">HLA-DQB1</text></g>
<g id="C1-hs-MTCO3P1"><ellipse cx="293.3" cy="7.5"/><text class="t u" transform="translate(293.3,17) rotate(-90)">MTCO3P1</text></g>
<g id="C1-hs-119"><rect x="302.3" y="-15"/><text class="t n" transform="translate(306.3,-24) rotate(-90)"><tspan x="0" dy="-1.9">000000140119</tspan><tspan x="0" dy="3.8">(novel)</tspan></text></g>
<g id="C1-hs-DQB3"><ellipse cx="316.7" cy="7.5"/><text class="t u" transform="translate(316.7,17) rotate(-90)">HLA-DQB3</text></g>
<g id="C1-hs-DQA2"><rect x="324.8" y="-15"/><text class="t" transform="translate(328.8,-24) rotate(-90)">HLA-DQA2</text></g>
<g id="C1-hs-DQB2"><rect class="m" x="347" y="0"/><text class="t u b" transform="translate(351,17) rotate(-90)">HLA-DQB2</text></g>
<g id="C1-hs-DOB"><rect x="359" y="0"/><text class="t u" transform="translate(363,17) rotate(-90)">HLA-DOB</text></g>
</g>

<!-- PANEL C2 -->
<g id="C2-gorilla" class="r" transform="translate(0,650)">
<g id="C2-go-u1"><rect x="404" y="-15"/></g>
<g id="C2-go-u2"><ellipse cx="430.5" cy="-7.5"/></g>
<g id="C2-go-u3"><rect x="437.5" y="0"/></g>
</g>
<g id="C2-human" class="r" transform="translate(0,752)">
<g id="C2-hs-RING1"><rect x="404" y="-15"/><text class="t" transform="translate(408,-18) rotate(-90)">RING1</text></g>
<g id="C2-hs-ZNF314P"><ellipse class="k" cx="419" cy="-7.5"/><text class="t b" transform="translate(419,-18) rotate(-90)">ZNF314P</text></g>
<g id="C2-hs-HTATSF1P2"><ellipse cx="430.5" cy="-7.5"/><text class="t" transform="translate(430.5,-18) rotate(-90)">HTATSF1P2</text></g>
<g id="C2-hs-VPS52"><rect x="437.5" y="0"/><text class="t u" transform="translate(441.5,17) rotate(-90)">VPS52</text></g>
</g>
</svg>
